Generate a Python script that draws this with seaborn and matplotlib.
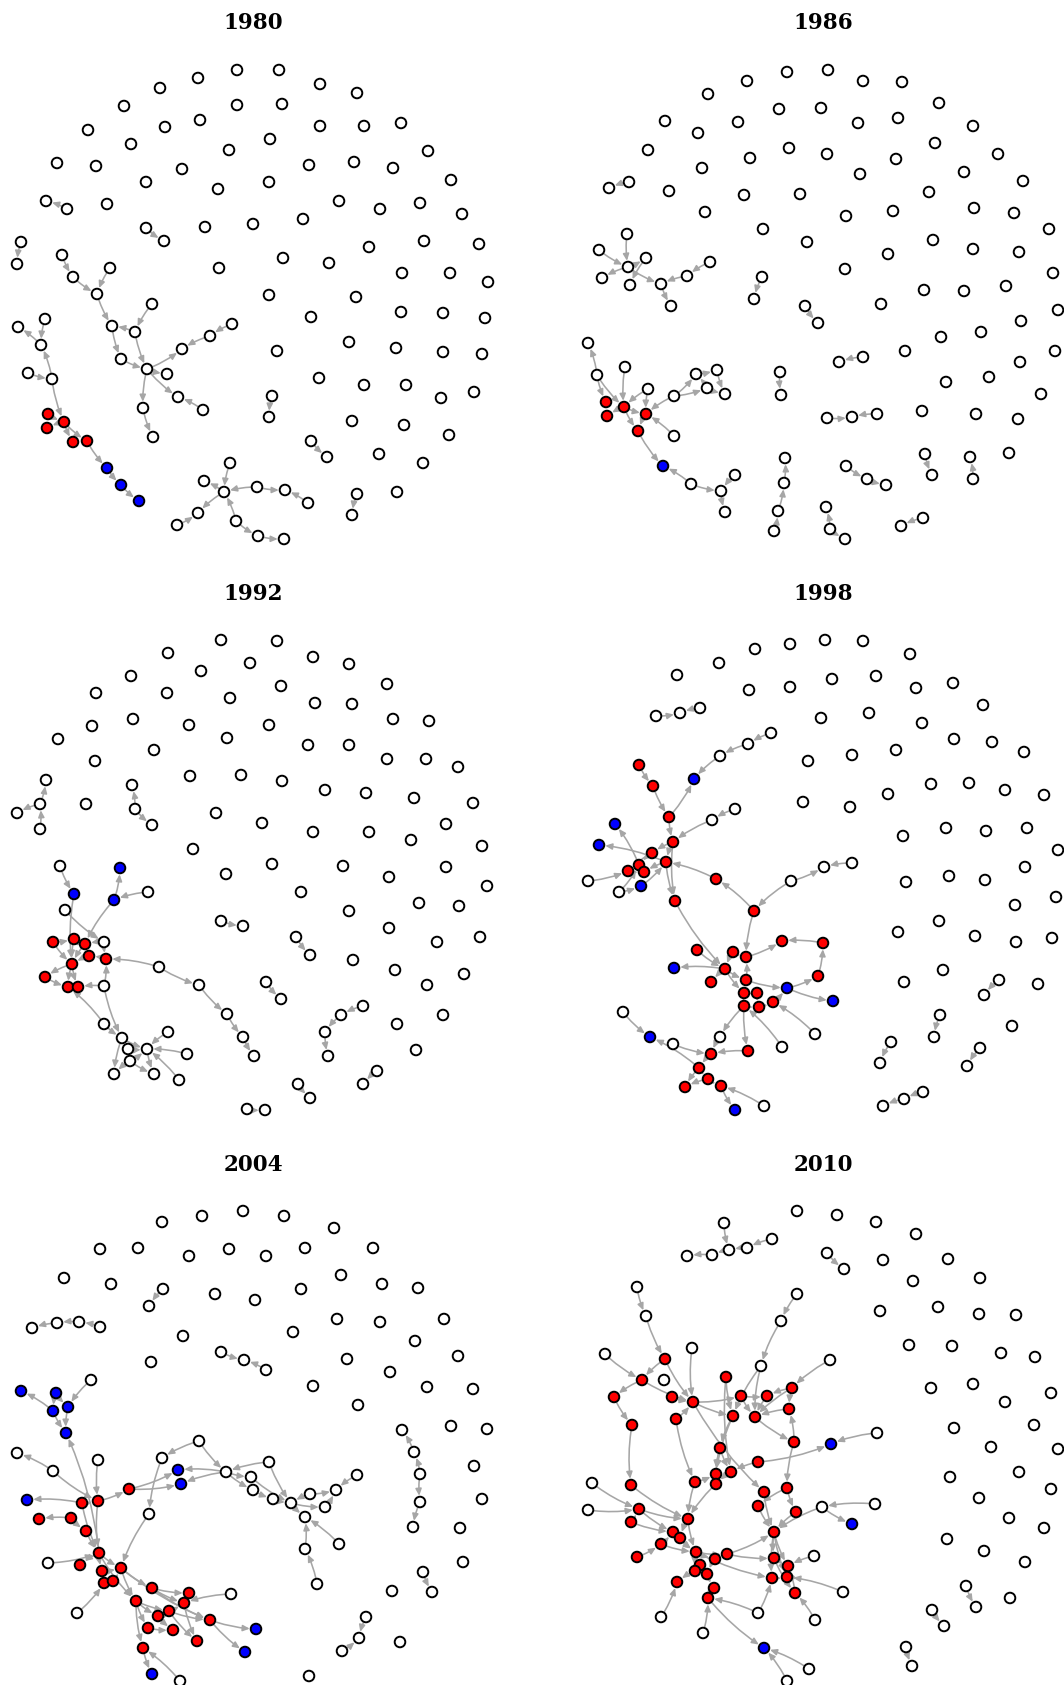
import pandas as pd
import seaborn as sns
import matplotlib.pyplot as plt
from matplotlib.patches import FancyArrowPatch

# panel-local pixel positions; group: w = none, r = red, b = blue
years = ["1980", "1986", "1992", "1998", "2004", "2010"]

nodes_1980 = [(62,200,'w'),(73,222,'w'),(110,213,'w'),(97,239,'w'),(112,271,'w'),(135,277,'w'),(152,249,'w'),(121,304,'w'),(147,314,'w'),(167,319,'w'),
              (182,294,'w'),(210,281,'w'),(232,269,'w'),(178,342,'w'),(203,355,'w'),(143,353,'w'),(153,382,'w'),(45,264,'w'),(18,272,'w'),(41,290,'w'),
              (28,318,'w'),(52,324,'w'),(48,359,'r'),(64,367,'r'),(47,373,'r'),(73,387,'r'),(87,386,'r'),(107,413,'b'),(121,430,'b'),(139,446,'b'),
              (224,437,'w'),(230,408,'w'),(204,426,'w'),(257,432,'w'),(285,435,'w'),(308,448,'w'),(198,458,'w'),(177,470,'w'),(236,466,'w'),(258,481,'w'),
              (284,484,'w'),(46,146,'w'),(67,154,'w'),(146,173,'w'),(164,186,'w'),(21,187,'w'),(17,209,'w'),(272,341,'w'),(269,362,'w'),(311,386,'w'),
              (327,402,'w'),(357,439,'w'),(352,460,'w')]
solo_1980 = [(237,15),(279,15),(198,23),(320,29),(357,38),(160,33),(124,51),(237,50),(282,49),(88,75),(165,72),(200,65),(320,71),(364,71),
             (401,68),(131,89),(270,84),(229,95),(428,96),(57,108),(96,111),(182,114),(309,110),(354,107),(393,113),(146,127),(269,127),
             (218,134),(451,125),(107,149),(339,146),(380,154),(420,148),(462,159),(205,172),(253,169),(303,164),(369,192),(424,186),
             (479,189),(283,203),(329,208),(219,213),(402,218),(450,218),(488,227),(269,240),(356,242),(311,262),(401,257),(443,258),
             (485,263),(277,296),(349,287),(396,293),(443,297),(482,299),(319,323),(364,330),(406,330),(441,343),(474,337),(352,366),
             (404,370),(449,380),(379,399),(423,408),(397,437)]
edges_1980 = [(0,1),(1,3),(2,3),(3,4),(5,4),(6,5),(4,7),(5,8),(7,8),(8,9),(8,10),(11,10),(12,11),(8,13),(14,13),(8,15),(15,16),
              (17,19),(19,18),(21,19),(20,21),(21,23),(22,23),(23,24),(23,25),(23,26),(26,27),(27,28),(28,29),
              (31,30),(30,32),(33,30),(33,34),(35,34),(30,36),(37,36),(38,30),(38,39),(39,40),
              (42,41),(43,44),(45,46),(47,48),(49,50),(51,52)]

nodes_1986 = [(63,179,'w'),(35,195,'w'),(82,203,'w'),(64,212,'w'),(38,223,'w'),(66,230,'w'),(97,229,'w'),(123,221,'w'),(146,207,'w'),(107,251,'w'),
              (24,288,'w'),(33,320,'w'),(61,312,'w'),(84,334,'w'),(110,341,'w'),(132,319,'w'),(153,315,'w'),(143,333,'w'),(161,339,'w'),(42,347,'r'),
              (60,352,'r'),(43,361,'r'),(82,359,'r'),(74,376,'r'),(110,381,'w'),(99,411,'b'),(127,429,'w'),(157,436,'w'),(171,420,'w'),(161,457,'w'),
              (45,133,'w'),(65,127,'w'),(198,222,'w'),(190,244,'w'),(241,251,'w'),(254,268,'w'),(275,307,'w'),(299,302,'w'),(216,317,'w'),(217,340,'w'),
              (263,363,'w'),(288,362,'w'),(313,359,'w'),(361,399,'w'),(368,420,'w'),(406,402,'w'),(409,424,'w'),(282,411,'w'),(303,424,'w'),(322,430,'w'),
              (221,403,'w'),(220,428,'w'),(214,456,'w'),(210,476,'w'),(262,452,'w'),(266,474,'w'),(281,484,'w'),(337,471,'w'),(359,463,'w')]
solo_1986 = [(264,15),(223,17),(299,26),(338,27),(183,26),(144,39),(375,48),(215,54),(257,53),(101,66),(174,67),(294,68),(334,63),
             (409,71),(134,78),(84,95),(225,93),(186,103),(263,99),(332,104),(371,88),(434,99),(400,117),(296,119),(138,113),(459,126),
             (105,136),(180,140),(236,139),(365,137),(141,157),(282,161),(329,156),(410,153),(450,158),(199,174),(243,187),(485,174),
             (369,185),(409,194),(455,197),(324,199),(281,214),(489,218),(360,235),(400,236),(442,231),(317,249),(494,255),(457,266),
             (377,282),(417,277),(491,296),(341,296),(456,307),(382,327),(425,322),(477,339),(358,356),(412,359),(454,364),(445,398)]
edges_1986 = [(0,3),(1,3),(3,2),(3,4),(2,5),(3,6),(7,6),(8,7),(6,9),
              (11,10),(11,19),(11,20),(12,20),(13,20),(13,22),(14,22),(14,15),(15,16),(17,15),(16,18),(17,18),(14,17),
              (20,21),(20,22),(20,23),(22,23),(24,22),(23,25),(26,25),(26,27),(28,27),(27,29),
              (31,30),(32,33),(34,35),(37,36),(38,39),(40,41),(42,41),(43,44),(46,45),(47,48),(48,49),
              (51,50),(52,51),(53,52),(55,54),(55,56),(58,57)]

nodes_1992 = [(46,160,'w'),(40,184,'w'),(17,193,'w'),(40,209,'w'),(132,165,'w'),(135,189,'w'),(152,205,'w'),(60,246,'w'),(120,248,'b'),(74,274,'b'),
              (114,280,'b'),(148,272,'w'),(65,290,'w'),(53,322,'r'),(74,319,'r'),(85,324,'r'),(104,322,'w'),(89,336,'r'),(106,339,'r'),(72,344,'r'),
              (45,357,'r'),(68,367,'r'),(78,367,'r'),(104,366,'w'),(159,347,'w'),(199,365,'w'),(227,394,'w'),(243,417,'w'),(254,436,'w'),(104,404,'w'),
              (122,418,'w'),(168,412,'w'),(147,429,'w'),(128,429,'w'),(187,434,'w'),(130,441,'w'),(114,454,'w'),(154,454,'w'),(179,460,'w'),(221,301,'w'),
              (243,306,'w'),(296,317,'w'),(310,335,'w'),(266,362,'w'),(281,379,'w'),(363,386,'w'),(341,395,'w'),(325,412,'w'),(328,436,'w'),(377,451,'w'),
              (363,464,'w'),(298,464,'w'),(310,478,'w'),(247,489,'w'),(265,490,'w')]
solo_1992 = [(221,20),(277,21),(168,33),(313,37),(349,44),(250,43),(201,51),(131,56),(281,66),(387,64),(96,73),(167,73),(230,78),
             (315,83),(352,84),(133,99),(189,105),(269,105),(393,99),(429,101),(92,106),(58,119),(227,118),(308,125),(349,125),
             (154,130),(387,139),(426,139),(458,147),(95,141),(190,156),(241,155),(282,161),(325,170),(366,173),(414,178),(473,183),
             (86,184),(216,193),(262,203),(313,212),(369,212),(411,220),(446,204),(482,226),(193,229),(272,244),(226,254),(343,246),
             (389,257),(446,247),(487,266),(301,272),(349,291),(419,283),(459,286),(389,308),(437,322),(480,317),(353,340),(395,350),
             (427,365),(464,354),(397,404),(443,395),(416,430)]
edges_1992 = [(1,0),(1,2),(3,1),(5,4),(5,6),
              (7,9),(9,19),(10,8),(11,10),(10,15),(12,16),(16,18),(24,18),(24,25),(25,26),(26,27),(27,28),
              (23,18),(23,22),(23,30),(29,21),(29,30),(30,32),(31,32),(34,32),(33,32),(35,32),(32,37),(38,32),(30,36),(35,37),(35,36),
              (13,14),(14,19),(15,19),(17,19),(19,20),(19,21),(19,22),(20,21),(21,22),(14,15),(18,17),(16,15),(13,19),
              (39,40),(41,42),(43,44),(45,46),(46,47),(47,48),(49,50),(51,52),(53,54)]

nodes_1998 = [(75,145,'r'),(89,166,'r'),(130,159,'b'),(156,136,'w'),(184,124,'w'),(207,113,'w'),(105,197,'r'),(171,189,'w'),(148,200,'w'),(51,204,'b'),
              (35,225,'b'),(109,222,'r'),(88,233,'r'),(102,242,'r'),(75,245,'r'),(64,251,'r'),(80,252,'r'),(24,261,'w'),(77,266,'b'),(55,272,'w'),
              (152,259,'r'),(111,281,'r'),(190,291,'r'),(227,261,'w'),(260,247,'w'),(288,243,'w'),(133,330,'r'),(169,332,'r'),(182,337,'r'),(218,321,'r'),
              (259,323,'r'),(110,348,'b'),(161,349,'r'),(147,362,'r'),(182,360,'r'),(223,368,'b'),(254,356,'r'),(269,381,'b'),(180,373,'r'),(193,373,'r'),
              (180,386,'r'),(195,387,'r'),(209,382,'r'),(251,414,'w'),(218,427,'w'),(156,417,'w'),(184,431,'r'),(59,392,'w'),(86,417,'b'),(109,424,'w'),
              (147,434,'r'),(135,448,'r'),(144,459,'r'),(121,467,'r'),(157,466,'r'),(171,490,'b'),(200,486,'w'),(92,96,'w'),(116,93,'w'),(136,88,'w'),
              (435,360,'w'),(420,375,'w'),(376,395,'w'),(370,417,'w'),(327,422,'w'),(316,443,'w'),(416,428,'w'),(403,446,'w'),(359,472,'w'),(340,479,'w'),
              (319,486,'w')]
solo_1998 = [(261,20),(226,24),(299,21),(346,34),(191,29),(155,43),(113,55),(185,70),(226,67),(268,59),(312,56),(352,68),(389,63),
             (419,85),(257,98),(305,93),(358,103),(390,119),(428,122),(460,132),(244,141),(288,135),(332,130),(239,182),(286,187),
             (324,174),(367,164),(405,163),(441,170),(480,175),(339,216),(382,208),(422,211),(463,208),(494,230),(342,262),(385,256),
             (421,260),(461,247),(451,285),(492,277),(334,312),(375,301),(411,316),(452,322),(488,318),(379,350),(340,362),(474,364),
             (448,406)]
edges_1998 = [(0,1),(1,6),(6,2),(3,2),(4,3),(5,4),(6,11),(8,11),(7,8),(11,12),(11,13),(12,14),(13,16),(14,9),(13,10),(17,15),(19,18),
              (19,14),(18,13),(15,16),(14,16),(12,15),(11,21),(13,21),(20,13),(22,20),(23,22),(23,24),(25,24),(21,32),(22,28),
              (26,32),(27,32),(27,28),(28,29),(30,29),(36,30),(32,31),(32,33),(32,38),(32,34),(34,28),(34,35),(35,36),(35,37),
              (38,39),(38,40),(39,41),(40,41),(41,42),(42,35),(43,42),(40,46),(44,40),(40,45),(45,50),(49,50),(46,50),(50,51),
              (51,52),(51,53),(52,53),(52,54),(54,55),(56,54),(47,48),(51,48),
              (57,58),(59,58),(60,61),(62,63),(64,65),(66,67),(68,69),(69,70)]

nodes_2004 = [(163,104,'w'),(149,121,'w'),(32,143,'w'),(57,138,'w'),(79,137,'w'),(100,142,'w'),(221,167,'w'),(244,175,'w'),(266,185,'w'),(402,245,'w'),
              (414,267,'w'),(420,289,'w'),(420,317,'w'),(413,342,'w'),(423,387,'w'),(432,407,'w'),(366,432,'w'),(359,453,'w'),(342,466,'w'),(91,195,'w'),
              (21,206,'b'),(56,208,'b'),(53,226,'b'),(68,222,'b'),(66,248,'b'),(17,268,'w'),(53,286,'w'),(98,275,'w'),(27,315,'b'),(39,334,'r'),
              (71,333,'r'),(82,318,'r'),(98,316,'r'),(86,346,'r'),(129,304,'r'),(162,273,'w'),(199,256,'w'),(178,285,'b'),(181,299,'b'),(226,287,'w'),
              (251,292,'w'),(269,277,'w'),(253,305,'w'),(273,314,'w'),(291,318,'w'),(310,309,'w'),(325,322,'w'),(336,305,'w'),(357,290,'w'),(305,332,'w'),
              (305,364,'w'),(339,359,'w'),(317,399,'w'),(149,329,'w'),(48,378,'w'),(99,368,'r'),(80,380,'r'),(102,386,'r'),(121,383,'r'),(104,398,'r'),
              (113,396,'r'),(77,428,'w'),(152,403,'r'),(189,408,'r'),(231,409,'w'),(136,416,'r'),(184,418,'r'),(169,426,'r'),(158,431,'r'),(210,435,'r'),
              (256,444,'b'),(148,443,'r'),(173,445,'r'),(197,456,'r'),(245,467,'b'),(143,463,'r'),(152,489,'b'),(180,496,'w')]
solo_2004 = [(243,26),(202,31),(284,31),(162,37),(334,43),(100,64),(138,63),(189,71),(229,64),(266,71),(305,63),(373,63),(64,93),
             (111,99),(215,109),(255,115),(301,104),(341,90),(382,99),(418,103),(183,151),(293,147),(337,134),(380,137),(444,134),
             (415,156),(151,177),(347,174),(390,187),(458,171),(313,201),(427,202),(473,204),(358,220),(451,241),(487,244),(474,281),
             (482,314),(460,343),(463,377),(392,406),(400,457),(309,491)]
edges_2004 = [(0,1),(3,2),(4,3),(5,4),(6,7),(8,7),(10,9),(11,10),(11,12),(12,13),(14,15),(16,17),(18,17),
              (19,23),(22,20),(21,22),(21,23),(22,24),(23,24),(55,24),
              (26,25),(26,32),(27,32),(31,28),(30,29),(30,33),(31,32),(32,34),(34,37),(34,38),(35,53),(36,35),(36,39),(39,37),
              (39,38),(41,39),(39,42),(39,40),(42,43),(43,44),(40,44),(45,44),(44,46),(45,47),(48,47),(46,47),(44,49),(51,49),
              (50,49),(52,50),(41,44),
              (53,58),(32,55),(33,55),(31,55),(54,55),(55,56),(55,57),(55,58),(55,65),(57,58),(59,60),(60,58),(61,59),(58,62),
              (58,65),(62,66),(62,63),(65,67),(65,68),(65,71),(65,75),(75,76),(77,75),(67,66),(64,66),(68,67),(67,69),(62,69),
              (69,70),(69,74),(66,73),(67,73),(68,72),(58,69),(71,72)]

nodes_2010 = [(160,38,'w'),(123,71,'w'),(148,70,'w'),(165,65,'w'),(183,63,'w'),(208,54,'w'),(263,68,'w'),(280,84,'w'),(402,401,'w'),(412,422,'w'),
              (368,425,'w'),(380,441,'w'),(342,462,'w'),(348,481,'w'),(73,102,'w'),(82,131,'w'),(233,109,'w'),(217,136,'w'),(41,169,'w'),(128,163,'w'),
              (101,174,'r'),(197,181,'w'),(266,175,'w'),(78,195,'r'),(100,195,'w'),(162,192,'r'),(50,212,'r'),(108,212,'r'),(129,217,'r'),(177,211,'r'),
              (203,211,'r'),(228,203,'r'),(225,224,'r'),(68,240,'r'),(112,234,'r'),(169,231,'r'),(191,232,'r'),(230,257,'r'),(267,259,'b'),(313,248,'w'),
              (156,263,'r'),(194,277,'r'),(152,289,'r'),(167,287,'r'),(131,297,'r'),(152,299,'r'),(28,298,'w'),(67,300,'r'),(223,303,'r'),(200,307,'r'),
              (24,325,'w'),(75,324,'r'),(194,321,'r'),(232,327,'r'),(258,322,'w'),(311,319,'w'),(67,337,'r'),(124,334,'r'),(288,339,'b'),(109,347,'r'),
              (116,353,'r'),(210,347,'r'),(97,359,'r'),(73,372,'r'),(132,367,'r'),(163,369,'r'),(151,374,'r'),(210,373,'r'),(250,371,'w'),(136,380,'r'),
              (224,381,'r'),(131,386,'r'),(143,389,'r'),(208,393,'r'),(223,392,'r'),(113,397,'r'),(150,403,'r'),(231,408,'r'),(279,407,'w'),(144,413,'r'),
              (194,428,'w'),(251,435,'w'),(97,432,'w'),(139,448,'w'),(200,463,'b'),(245,484,'w'),(223,496,'w')]
solo_2010 = [(233,26),(273,30),(312,37),(352,49),(319,75),(384,74),(349,96),(416,93),(316,126),(374,122),(415,129),(452,130),
             (345,160),(388,161),(437,168),(471,172),(367,203),(409,199),(441,217),(487,208),(390,243),(470,240),(427,262),(494,264),
             (386,292),(455,287),(415,313),(487,304),(445,333),(480,343),(383,354),(420,366),(461,377),(446,413)]
edges_2010 = [(0,3),(2,1),(3,2),(4,3),(5,4),(6,7),(8,9),(10,11),(12,13),
              (14,15),(15,20),(18,23),(20,23),(23,26),(26,33),(23,28),(19,28),(20,28),(27,28),(33,47),(28,29),(28,35),(28,49),(34,28),
              (16,17),(17,21),(21,36),(21,35),(25,35),(29,36),(29,30),(30,36),(31,30),(22,31),(31,36),(32,36),(36,37),(37,32),(31,32),
              (35,40),(35,42),(40,42),(40,43),(41,43),(41,38),(39,38),(37,48),(48,52),(48,53),(54,61),(55,54),(54,58),(49,61),
              (52,61),(53,61),(61,67),(61,70),(61,73),(61,74),(68,70),(78,74),(81,77),(67,77),(80,73),(85,84),(86,84),(79,84),
              (46,51),(50,51),(47,57),(51,57),(51,59),(56,59),(57,60),(62,59),(63,62),(62,64),(59,64),(60,64),(57,64),(64,65),
              (64,66),(64,69),(64,71),(66,72),(69,72),(71,75),(72,76),(76,79),(82,75),(83,79),(80,79),(65,67),(65,61),(64,73),
              (34,44),(44,57),(44,42),(42,45),(45,57),(43,45),(40,45),(73,74),(70,74),(67,70),(77,70),(56,51),(25,43)]

all_nodes = [nodes_1980, nodes_1986, nodes_1992, nodes_1998, nodes_2004, nodes_2010]
all_solo = [solo_1980, solo_1986, solo_1992, solo_1998, solo_2004, solo_2010]
all_edges = [edges_1980, edges_1986, edges_1992, edges_1998, edges_2004, edges_2010]

W, H = 1064, 1685
origins = [(0, 55), (564, 55), (0, 620), (564, 620), (0, 1185), (564, 1185)]
title_y = [-31.5, -31.5, -26, -26, -20, -20]
title_x = [253, 259]
palette = {'w': 'white', 'r': '#ff0000', 'b': '#0000ff'}

sns.set_style("white")
fig = plt.figure(figsize=(W / 100, H / 100), dpi=100)

for k, year in enumerate(years):
    ox, oy = origins[k]
    ax = fig.add_axes([ox / W, 1 - (oy + 500) / H, 500 / W, 500 / H])
    rows = list(all_nodes[k]) + [(x, y, 'w') for x, y in all_solo[k]]
    df = pd.DataFrame(rows, columns=['x', 'y', 'group'])

    for i, j in all_edges[k]:
        arr = FancyArrowPatch((df.x[i], df.y[i]), (df.x[j], df.y[j]),
                              arrowstyle='-|>,head_length=4,head_width=1.8',
                              connectionstyle='arc3,rad=0.08', mutation_scale=1,
                              color='#a6a6a6', lw=1.15, shrinkA=4.5, shrinkB=4.5, zorder=1)
        ax.add_patch(arr)

    sns.scatterplot(data=df, x='x', y='y', hue='group', palette=palette, s=58,
                    edgecolor='black', linewidth=1.4, legend=False, ax=ax, zorder=3)
    ax.set_xlim(0, 500)
    ax.set_ylim(500, 0)
    ax.axis('off')
    ax.text(title_x[k % 2], title_y[k], year, ha='center', va='center', color='black',
            fontsize=15.5, fontweight='bold', family='DejaVu Serif')

fig.savefig('out.png', dpi=100)
